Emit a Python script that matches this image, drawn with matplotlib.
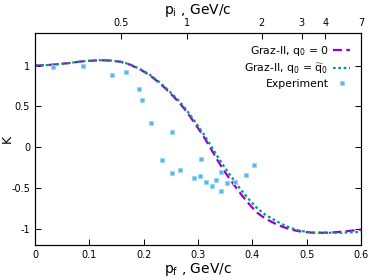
import matplotlib.pyplot as plt

# Graz-II, q0 = 0
pf_a = [0.0, 0.03, 0.06, 0.09, 0.12, 0.14, 0.157, 0.175, 0.193, 0.21, 0.225, 0.24, 0.252,
        0.263, 0.275, 0.285, 0.298, 0.31, 0.322, 0.335, 0.347, 0.359, 0.371, 0.38, 0.395,
        0.408, 0.423, 0.439, 0.455, 0.47, 0.485, 0.5, 0.515, 0.531, 0.547, 0.562, 0.58, 0.6]
k_a = [1.0, 1.01, 1.03, 1.055, 1.067, 1.062, 1.048, 1.012, 0.955, 0.888, 0.81, 0.72, 0.64,
       0.565, 0.47, 0.38, 0.255, 0.135, 0.0, -0.151, -0.28, -0.396, -0.505, -0.585, -0.705,
       -0.8, -0.872, -0.928, -0.975, -1.008, -1.03, -1.043, -1.05, -1.05, -1.046, -1.038,
       -1.026, -1.01]

# Graz-II, q0 = q0~
pf_b = [0.0, 0.03, 0.06, 0.09, 0.12, 0.14, 0.157, 0.175, 0.193, 0.21, 0.225, 0.24, 0.252,
        0.263, 0.275, 0.285, 0.298, 0.31, 0.322, 0.335, 0.347, 0.359, 0.371, 0.38, 0.395,
        0.408, 0.423, 0.439, 0.455, 0.47, 0.485, 0.5, 0.515, 0.531, 0.547, 0.562, 0.58, 0.6]
k_b = [1.0, 1.01, 1.03, 1.055, 1.067, 1.063, 1.05, 1.015, 0.96, 0.895, 0.82, 0.733, 0.655,
       0.582, 0.49, 0.4, 0.28, 0.165, 0.035, -0.105, -0.228, -0.34, -0.45, -0.53, -0.65,
       -0.744, -0.825, -0.887, -0.945, -0.99, -1.02, -1.04, -1.048, -1.05, -1.05, -1.05,
       -1.045, -1.038]

# Experiment
pf_exp = [0.034, 0.089, 0.142, 0.168, 0.192, 0.197, 0.214, 0.252, 0.234, 0.252, 0.267,
          0.293, 0.306, 0.304, 0.315, 0.325, 0.334, 0.342, 0.342, 0.353, 0.368, 0.389, 0.403]
k_exp = [0.987, 0.994, 0.884, 0.92, 0.712, 0.577, 0.299, 0.184, -0.16, -0.319, -0.274,
         -0.38, -0.151, -0.356, -0.433, -0.478, -0.405, -0.54, -0.307, -0.437, -0.43,
         -0.339, -0.216]

# top axis: p_i labels and where they sit on the p_f scale
pi_labels = ['0.5', '1', '2', '3', '4', '7']
pi_at_pf = [0.158, 0.279, 0.417, 0.491, 0.534, 0.6]

fig = plt.figure(figsize=(3.74, 2.8), dpi=100)
ax = fig.add_axes([0.0936, 0.125, 0.8717, 0.757])

ax.plot(pf_a, k_a, color='#9400D3', lw=1.6, ls=(0, (4, 2)), label='Graz-II, q$_0$ = 0')
ax.plot(pf_b, k_b, color='#009E73', lw=1.6, ls=(0, (1.2, 1.2)),
        label='Graz-II, q$_0$ = $\\widetilde{\\mathrm{q}}_0$')
ax.plot(pf_exp, k_exp, ls='none', marker='s', ms=3.5, color='#56B4E9', mec='#9fd6f5',
        mew=0.8, label='Experiment')

ax.set_xlim(0, 0.6)
ax.set_ylim(-1.2, 1.4)
ax.set_xticks([0, 0.1, 0.2, 0.3, 0.4, 0.5, 0.6])
ax.set_xticklabels(['0', '0.1', '0.2', '0.3', '0.4', '0.5', '0.6'])
ax.set_yticks([-1, -0.5, 0, 0.5, 1])
ax.set_yticklabels(['-1', '-0.5', '0', '0.5', '1'])
ax.tick_params(direction='in', labelsize=7, length=4, right=True, width=0.7)
ax.set_xlabel('p$_\\mathrm{f}$ , GeV/c', fontsize=10, labelpad=1)
ax.set_ylabel('K', fontsize=9)
ax.yaxis.set_label_coords(-0.064, 0.5)

ax2 = ax.twiny()
ax2.set_xlim(0, 0.6)
ax2.set_xticks(pi_at_pf)
ax2.set_xticklabels(pi_labels)
ax2.tick_params(direction='in', labelsize=7, length=4, width=0.7)
ax2.set_xlabel('p$_\\mathrm{i}$ , GeV/c', fontsize=10, labelpad=3)

for a in (ax, ax2):
    for s in a.spines.values():
        s.set_linewidth(0.8)

ax.legend(loc='upper right', frameon=False, markerfirst=False, fontsize=7.8,
          handlelength=1.6, handletextpad=0.4, labelspacing=0.3, borderaxespad=0.6)

fig.savefig('out.png', dpi=100)
